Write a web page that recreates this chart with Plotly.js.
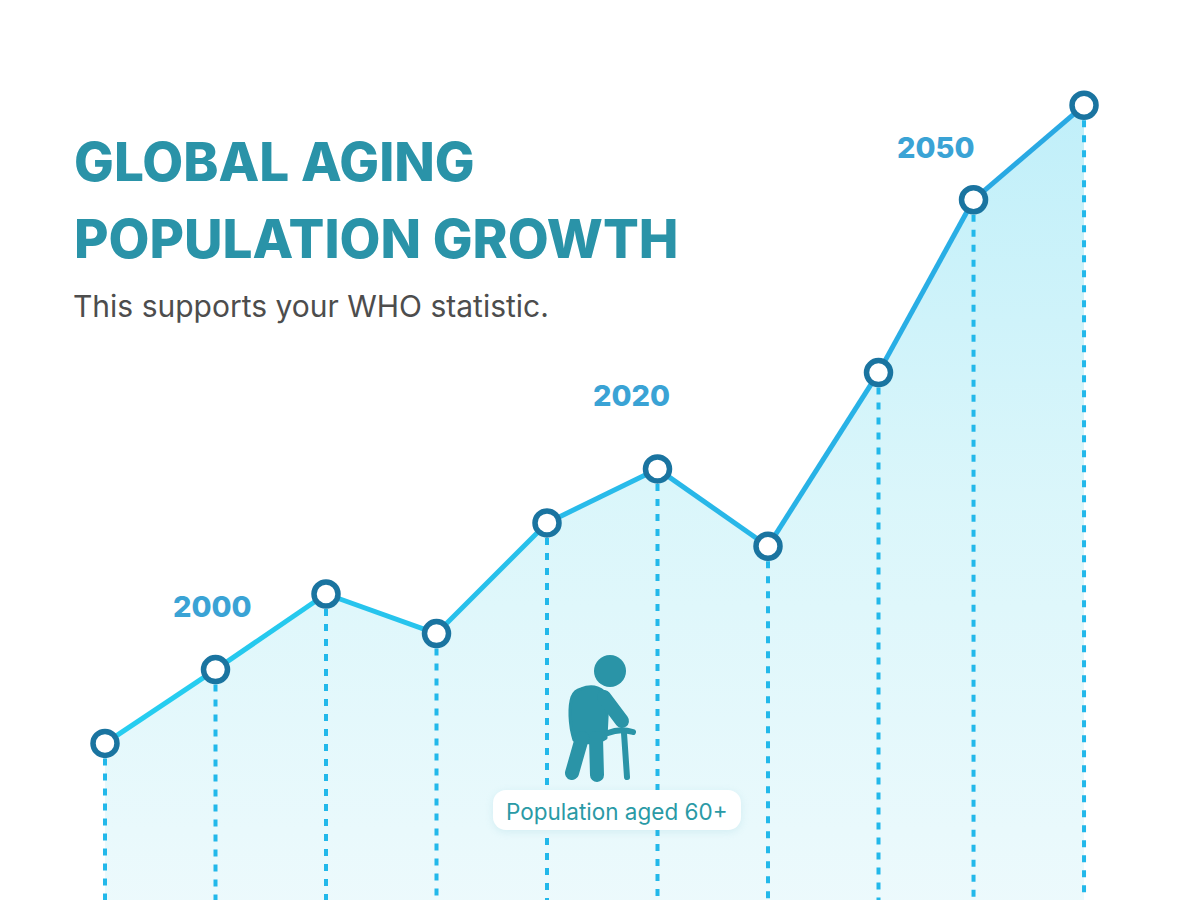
<!DOCTYPE html>
<html><head><meta charset="utf-8">
<script src="https://cdn.plot.ly/plotly-3.0.1.min.js"></script>
<style>html,body{margin:0;padding:0;background:#fff}#chart{width:1200px;height:900px}</style>
</head><body><div id="chart"></div>
<script>
// Data (arbitrary units: period index vs. population index)
const periods = [0, 1, 2, 3, 4, 5, 6, 7, 7.86, 8.86];
const population = [17.4, 25.6, 34.0, 29.6, 41.9, 47.9, 39.3, 58.6, 77.8, 88.3];
const yearLabels = ['2000', '2020', '2050'];
const titleLines = ['GLOBAL AGING', 'POPULATION GROWTH'];
const subtitle = 'This supports your WHO statistic.';
const seriesLabel = 'Population aged 60+';

const W = 1200, H = 900;
const px = v => v / W, py = v => 1 - v / H;

function mix(a, b, t) {
  const pa = a.match(/\w\w/g).map(h => parseInt(h, 16));
  const pb = b.match(/\w\w/g).map(h => parseInt(h, 16));
  return 'rgb(' + pa.map((v, i) => Math.round(v + (pb[i] - v) * t)).join(',') + ')';
}

const traces = [];
// gradient area
traces.push({
  x: periods, y: population, type: 'scatter', mode: 'lines',
  line: {width: 0}, fill: 'tozeroy',
  fillgradient: {type: 'vertical', start: 0, stop: 90,
    colorscale: [[0, 'rgba(234,249,252,0.9)'], [0.5, 'rgba(214,245,250,0.9)'], [1, 'rgba(188,238,249,0.95)']]},
  hoverinfo: 'skip', showlegend: false
});
// dashed drop lines
const dx = [], dy = [];
periods.forEach((p, i) => { dx.push(p, p, null); dy.push(population[i], 0, null); });
traces.push({
  x: dx, y: dy, type: 'scatter', mode: 'lines',
  line: {color: '#22b8ea', width: 4, dash: '7px,8px'},
  hoverinfo: 'skip', showlegend: false
});
// line segments with a cyan-to-blue colour drift
for (let i = 0; i < periods.length - 1; i++) {
  const t = i / (periods.length - 2);
  traces.push({
    x: [periods[i], periods[i + 1]], y: [population[i], population[i + 1]],
    type: 'scatter', mode: 'lines',
    line: {color: mix('26cdf0', '29a9e3', t), width: 5},
    hoverinfo: 'skip', showlegend: false
  });
}
// markers
traces.push({
  x: periods, y: population, type: 'scatter', mode: 'markers',
  marker: {size: 24, color: '#ffffff', line: {color: '#1a74a0', width: 5.5}},
  name: seriesLabel, showlegend: false
});

const iconSvg = `<svg xmlns="http://www.w3.org/2000/svg" width="280" height="205" viewBox="480 640 280 205">
<defs><filter id="s" x="-20%" y="-80%" width="140%" height="260%"><feGaussianBlur stdDeviation="4"/></filter></defs>
<rect x="493" y="792" width="248" height="40" rx="13" fill="#5aaec0" opacity="0.16" filter="url(#s)"/>
<rect x="493" y="790" width="248" height="40" rx="13" fill="#ffffff"/>
<g stroke="#2a94a7" stroke-linecap="round" stroke-linejoin="round" fill="none">
<circle cx="610" cy="671" r="16" fill="#2a94a7" stroke="none"/>
<path d="M581 689 C593 684 604 688 608 698 L606 738 C598 744 584 744 574 740 C569 724 569 706 572 697 C574 692 577 690 581 689 Z" fill="#2a94a7" stroke-width="3"/>
<line x1="604" y1="697" x2="622" y2="721" stroke-width="14"/>
<line x1="582" y1="738" x2="572" y2="773" stroke-width="14"/>
<line x1="596" y1="738" x2="597" y2="775" stroke-width="14"/>
<path d="M608 733 Q620 728 633 732" stroke-width="6"/>
<line x1="624" y1="733" x2="627" y2="777" stroke-width="6"/>
</g></svg>`;

const ann = [];
ann.push({text: titleLines[0], xref: 'paper', yref: 'paper', x: px(72), y: py(162), xanchor: 'left', yanchor: 'middle', showarrow: false,
  font: {family: 'Inter, Roboto, sans-serif', size: 53, weight: 800, color: '#2a93a8'}});
ann.push({text: titleLines[1], xref: 'paper', yref: 'paper', x: px(72), y: py(239), xanchor: 'left', yanchor: 'middle', showarrow: false,
  font: {family: 'Inter, Roboto, sans-serif', size: 53, weight: 800, color: '#2a93a8'}});
ann.push({text: subtitle, xref: 'paper', yref: 'paper', x: px(71), y: py(306), xanchor: 'left', yanchor: 'middle', showarrow: false,
  font: {family: 'Inter, Roboto, sans-serif', size: 30, color: '#4d4d4d'}});
const yearPos = [[212, 606], [632, 395], [936, 148]];
yearLabels.forEach((t, i) => ann.push({text: t, xref: 'paper', yref: 'paper', x: px(yearPos[i][0]), y: py(yearPos[i][1]),
  xanchor: 'center', yanchor: 'middle', showarrow: false,
  font: {family: 'Inter, Roboto, sans-serif', size: 29, weight: 800, color: '#3aa3d5'}}));
ann.push({text: seriesLabel, xref: 'paper', yref: 'paper', x: px(617), y: py(811), xanchor: 'center', yanchor: 'middle', showarrow: false,
  font: {family: 'Inter, Roboto, sans-serif', size: 22.5, color: '#2a9aa6'}});

const layout = {
  width: W, height: H, margin: {l: 0, r: 0, t: 0, b: 0},
  paper_bgcolor: '#ffffff', plot_bgcolor: '#ffffff',
  xaxis: {range: [-105 / 110.5, 1095 / 110.5], visible: false, fixedrange: true},
  yaxis: {range: [0, 100], visible: false, fixedrange: true},
  showlegend: false,
  annotations: ann,
  images: [{source: 'data:image/svg+xml;charset=utf-8,' + encodeURIComponent(iconSvg),
    xref: 'paper', yref: 'paper', x: px(480), y: py(640), sizex: 280 / W, sizey: 205 / H,
    xanchor: 'left', yanchor: 'top', sizing: 'stretch', layer: 'above'}]
};
Plotly.newPlot('chart', traces, layout, {displayModeBar: false, staticPlot: true});
</script></body></html>
